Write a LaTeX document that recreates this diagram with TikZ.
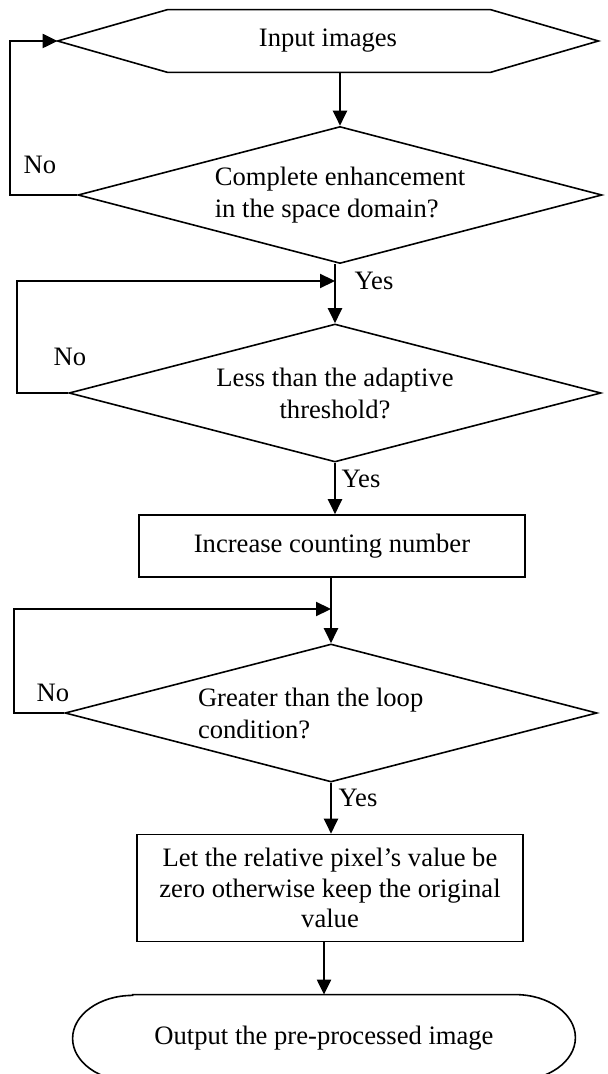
\documentclass[tikz,border=0pt]{standalone}
\usepackage{fontspec}
\setmainfont{Liberation Serif}
\usetikzlibrary{arrows.meta,shapes.geometric}

\tikzset{
  box/.style={draw,line width=0.8pt,inner sep=0pt,align=center,minimum width=193pt},
  decision/.style={draw,diamond,aspect=3.8,line width=0.8pt,inner sep=0pt},
  flow/.style={line width=1.1pt,-{Triangle[length=7.5pt,width=7pt]}},
  lbl/.style={inner sep=0pt}
}

\begin{document}
\begin{tikzpicture}[x=0.5pt,y=-0.5pt,font=\fontsize{13.3}{16}\selectfont]
\useasboundingbox (0,0) rectangle (607,1074);

% input images, hexagon drawn round the text node
\node[minimum width=270pt,minimum height=31pt,inner sep=0pt] (inp) at (328,41) {Input images};
\draw[line width=0.8pt] (inp.west) -- ([xshift=55pt]inp.north west) -- ([xshift=-54pt]inp.north east)
  -- (inp.east) -- ([xshift=-54pt]inp.south east) -- ([xshift=55pt]inp.south west) -- cycle;

% first decision
\node[decision,minimum width=262pt,minimum height=68.5pt,align=left] (d1) at (340,195) {Complete enhancement\\in the space domain?};

% second decision
\node[decision,minimum width=266pt,minimum height=69pt,align=center] (d2) at (335,393) {Less than the adaptive\\threshold?};

% counting box
\node[box,minimum height=31pt] (cnt) at (332,546) {Increase counting number};

% third decision
\node[decision,minimum width=266pt,minimum height=69pt,text width=133pt,align=flush left] (d3) at (331,713) {Greater than the loop\\condition?};

% box for the pixel value
\node[box,minimum height=53.5pt,font=\fontsize{13.3}{15.3}\selectfont] (rel) at (330,888) {Let the relative pixel’s value be\\zero otherwise keep the original\\value};

% output terminal
\node[minimum width=251pt,minimum height=43pt,inner sep=0pt] (out) at (324,1038) {Output the pre-processed image};
\draw[line width=0.8pt] ([xshift=30pt]out.north west) -- ([xshift=-30pt]out.north east)
  arc[start angle=90,end angle=-90,x radius=30pt,y radius=21.5pt]
  -- ([xshift=30pt]out.south west)
  arc[start angle=270,end angle=90,x radius=30pt,y radius=21.5pt] -- cycle;

% junctions where the loops come back
\coordinate (j1) at (335,281);
\coordinate (j2) at (331,609);

% main flow
\draw[flow] (inp.south -| d1.north) -- (d1.north);
\draw[flow] (d1.south -| d2.north) -- (d2.north);
\draw[flow] (d2.south) -- (d2.south |- cnt.north);
\draw[flow] (cnt.south -| d3.north) -- (d3.north);
\draw[flow] (d3.south) -- (d3.south |- rel.north);
\draw[flow] (rel.south -| out.north) -- (out.north);

% loops back
\draw[flow] (d1.west) -- ++(-67,0) |- (inp.west);
\draw[flow] (d2.west) -- ++(-51,0) |- (j1);
\draw[flow] (d3.west) -- ++(-50,0) |- (j2);

% labels
\node[lbl] (no1) at (40,165) {No};
\node[lbl] (yes1) at (374,281) {Yes};
\node[lbl] (no2) at (70,357) {No};
\node[lbl] (yes2) at (361,479) {Yes};
\node[lbl] (no3) at (53,693) {No};
\node[lbl] (yes3) at (358,798) {Yes};

\end{tikzpicture}
\end{document}
